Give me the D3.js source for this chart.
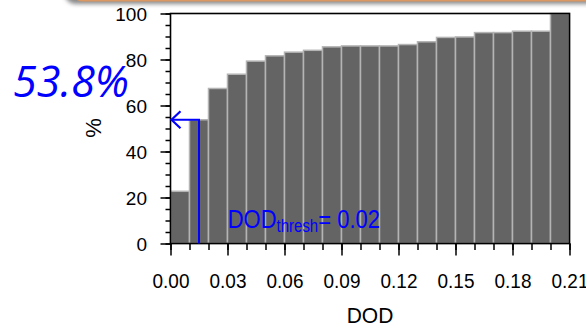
<!DOCTYPE html>
<html>
<head>
<meta charset="utf-8">
<script src="https://cdn.jsdelivr.net/npm/d3@7"></script>
<style>
  html, body { margin: 0; padding: 0; background: #fff; }
  svg { display: block; font-family: "Liberation Sans", Arial, Helvetica, sans-serif; }
</style>
</head>
<body>
<div id="chart"></div>
<script>
// bin left edges (DOD) and cumulative percentage per bin
const binStarts = [0.00, 0.01, 0.02, 0.03, 0.04, 0.05, 0.06, 0.07, 0.08, 0.09, 0.10,
                   0.11, 0.12, 0.13, 0.14, 0.15, 0.16, 0.17, 0.18, 0.19, 0.20];
const percents = [22.7, 53.8, 67.4, 73.6, 79.3, 81.6, 83.2, 84.0, 85.5, 85.9, 85.9,
                  85.9, 86.5, 87.7, 89.6, 89.8, 91.7, 91.7, 92.3, 92.3, 100];
const binWidth = 0.01;

const xTickValues = [0, 0.03, 0.06, 0.09, 0.12, 0.15, 0.18, 0.21];
const xTickLabels = ["0.00", "0.03", "0.06", "0.09", "0.12", "0.15", "0.18", "0.21"];
const yTickValues = [0, 20, 40, 60, 80, 100];
const yTickLabels = ["0", "20", "40", "60", "80", "100"];

// threshold marker
const threshX = 0.015;
const threshPct = 53.8;
const threshLabel = "53.8%";

const width = 586, height = 326;
const plot = { left: 170.5, right: 569.5, top: 13.5, bottom: 243.5 };

const svg = d3.select("#chart").append("svg")
  .attr("width", width)
  .attr("height", height);

const x = d3.scaleLinear().domain([0, 0.21]).range([plot.left, plot.right]);
const y = d3.scaleLinear().domain([0, 100]).range([plot.bottom, plot.top]);

// bars
svg.append("g")
  .selectAll("rect")
  .data(binStarts)
  .join("rect")
  .attr("x", d => x(d))
  .attr("y", (d, i) => y(percents[i]))
  .attr("width", d => x(d + binWidth) - x(d))
  .attr("height", (d, i) => y(0) - y(percents[i]))
  .attr("fill", "#646464")
  .attr("stroke", "#b4b4b4")
  .attr("stroke-width", 1.5);

// frame
svg.append("rect")
  .attr("x", plot.left).attr("y", plot.top)
  .attr("width", plot.right - plot.left)
  .attr("height", plot.bottom - plot.top)
  .attr("fill", "none")
  .attr("stroke", "#000")
  .attr("stroke-width", 1.6);

// x axis: major + minor ticks
const xMinor = d3.range(0, 0.2101, 0.01);
svg.append("g")
  .attr("transform", `translate(0,${plot.bottom})`)
  .call(d3.axisBottom(x).tickValues(xMinor).tickSize(6.5).tickFormat(""))
  .call(g => g.select(".domain").remove());
const xAxis = svg.append("g")
  .attr("transform", `translate(0,${plot.bottom})`)
  .call(d3.axisBottom(x).tickValues(xTickValues).tickSize(12).tickFormat((d, i) => xTickLabels[i]))
  .call(g => g.select(".domain").remove());
xAxis.selectAll("text")
  .attr("y", 0).attr("dy", null)
  .attr("transform", "translate(0,44.8) scale(1,1.1)")
  .attr("font-size", 19)
  .attr("fill", "#000");

// y axis: major + minor ticks
const yMinor = d3.range(0, 101, 5);
svg.append("g")
  .attr("transform", `translate(${plot.left},0)`)
  .call(d3.axisLeft(y).tickValues(yMinor).tickSize(5).tickFormat(""))
  .call(g => g.select(".domain").remove());
const yAxis = svg.append("g")
  .attr("transform", `translate(${plot.left},0)`)
  .call(d3.axisLeft(y).tickValues(yTickValues).tickSize(10).tickFormat((d, i) => yTickLabels[i]))
  .call(g => g.select(".domain").remove());
yAxis.selectAll("text")
  .attr("x", -23.5).attr("dy", "0.36em")
  .attr("font-size", 19)
  .attr("fill", "#000");

svg.selectAll(".tick line").attr("stroke", "#000").attr("stroke-width", 1.5);

// axis titles
svg.append("text")
  .attr("transform", `translate(${x(0.105)},323.3) scale(1,1.05)`)
  .attr("text-anchor", "middle")
  .attr("font-size", 21)
  .text("DOD");

svg.append("text")
  .attr("transform", "translate(101,128) rotate(-90)")
  .attr("text-anchor", "middle")
  .attr("font-size", 22)
  .text("%");

// threshold lines and arrow
const blue = "#0000ff";
svg.append("line")
  .attr("x1", x(threshX)).attr("x2", x(threshX))
  .attr("y1", y(0)).attr("y2", y(threshPct))
  .attr("stroke", blue).attr("stroke-width", 2);
svg.append("line")
  .attr("x1", x(threshX) + 1).attr("x2", x(0) + 1)
  .attr("y1", y(threshPct)).attr("y2", y(threshPct))
  .attr("stroke", blue).attr("stroke-width", 2);
svg.append("path")
  .attr("d", `M${x(0) + 10},${y(threshPct) - 8.5} L${x(0) + 1},${y(threshPct)} L${x(0) + 10},${y(threshPct) + 8.5}`)
  .attr("fill", "none")
  .attr("stroke", blue).attr("stroke-width", 2.2)
  .attr("stroke-linejoin", "miter");

// DOD_thresh label
const lab = svg.append("text")
  .attr("transform", "translate(227.7,227.7) scale(1,1.2)")
  .attr("fill", blue)
  .attr("font-size", 22);
lab.append("tspan").text("DOD");
lab.append("tspan").attr("font-size", 15).attr("dy", 3.3).text("thresh");
lab.append("tspan").attr("dy", -3.3).text("= 0.02");

// big percentage annotation
svg.append("text")
  .attr("x", 13)
  .attr("y", 96.7)
  .attr("fill", blue)
  .attr("font-family", "'Open Sans', 'Noto Sans', sans-serif")
  .attr("font-style", "italic")
  .attr("font-size", 43)
  .text(threshLabel);

// slide decoration strip at the top
const defs = svg.append("defs");
defs.append("filter").attr("id", "shadow")
  .attr("x", "-10%").attr("y", "-50%").attr("width", "120%").attr("height", "200%")
  .append("feGaussianBlur").attr("stdDeviation", 2);
svg.append("rect")
  .attr("x", 64).attr("y", -30).attr("width", 560).attr("height", 34)
  .attr("rx", 12)
  .attr("fill", "#8a8a8a")
  .attr("filter", "url(#shadow)");
svg.append("rect")
  .attr("x", 72).attr("y", -30).attr("width", 560).attr("height", 31.5)
  .attr("rx", 10)
  .attr("fill", "#dc9862");
</script>
</body>
</html>
